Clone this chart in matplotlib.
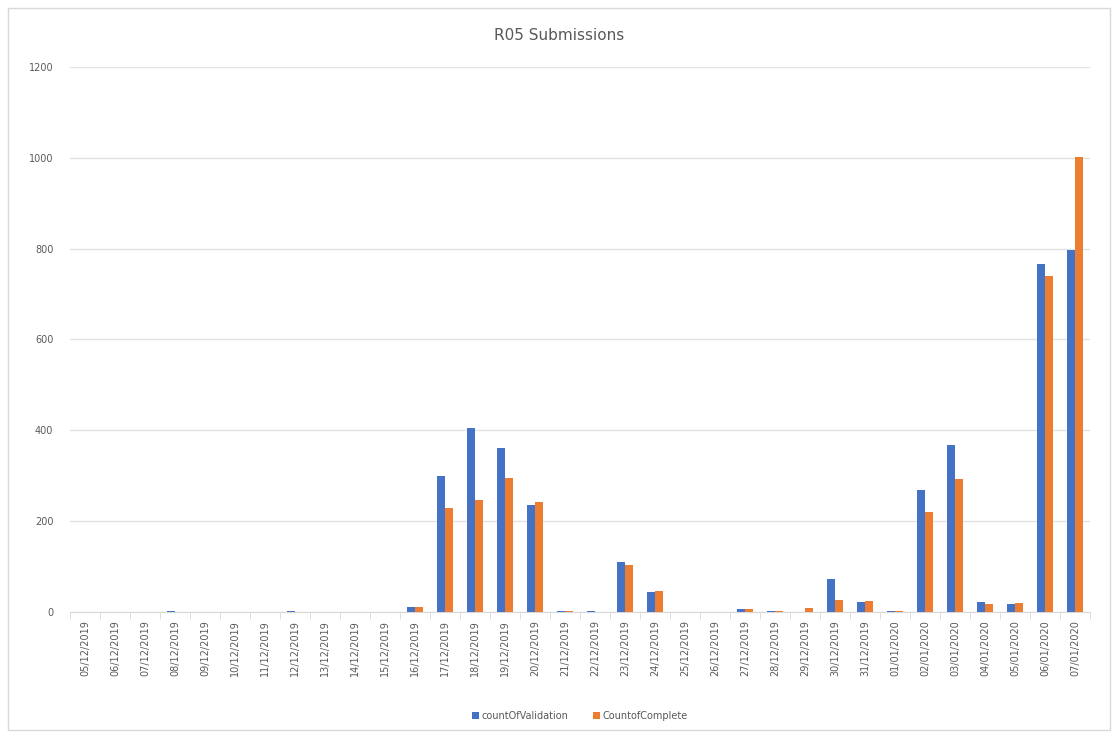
import matplotlib
matplotlib.use("Agg")
import matplotlib.pyplot as plt
import numpy as np
from matplotlib.patches import Rectangle

dates = ["05/12/2019", "06/12/2019", "07/12/2019", "08/12/2019", "09/12/2019", "10/12/2019",
         "11/12/2019", "12/12/2019", "13/12/2019", "14/12/2019", "15/12/2019", "16/12/2019",
         "17/12/2019", "18/12/2019", "19/12/2019", "20/12/2019", "21/12/2019", "22/12/2019",
         "23/12/2019", "24/12/2019", "25/12/2019", "26/12/2019", "27/12/2019", "28/12/2019",
         "29/12/2019", "30/12/2019", "31/12/2019", "01/01/2020", "02/01/2020", "03/01/2020",
         "04/01/2020", "05/01/2020", "06/01/2020", "07/01/2020"]
validation = [0, 0, 0, 3, 0, 0, 0, 3, 0, 0, 0, 12, 300, 405, 361, 236, 3, 3, 110, 45,
              0, 0, 6, 3, 0, 72, 23, 3, 269, 368, 21, 17, 766, 797]
complete = [0, 0, 0, 0, 0, 0, 0, 0, 0, 0, 0, 12, 229, 246, 295, 242, 3, 0, 103, 47,
            0, 0, 6, 3, 9, 27, 25, 3, 220, 293, 18, 20, 740, 1002]

W, H = 1119, 738
fig = plt.figure(figsize=(W / 100, H / 100), dpi=100)
fig.patches.append(Rectangle((8 / W, 8 / H), 1102 / W, 722 / H, transform=fig.transFigure,
                             fill=False, edgecolor="#D9D9D9", linewidth=1))
ax = fig.add_axes([70 / W, 1 - 612 / H, 1020 / W, 545 / H])

x = np.arange(len(dates))
bw = 0.26
ax.bar(x - bw / 2, validation, bw, color="#4472C4", label="countOfValidation", zorder=3)
ax.bar(x + bw / 2, complete, bw, color="#ED7D31", label="CountofComplete", zorder=3)

ax.set_xlim(-0.5, len(dates) - 0.5)
ax.set_ylim(0, 1200)
ax.set_yticks(np.arange(0, 1201, 200))
ax.yaxis.grid(True, color="#E3E3E3", linewidth=1, zorder=0)
for s in ["top", "right", "left"]:
    ax.spines[s].set_visible(False)
ax.spines["bottom"].set_color("#D9D9D9")
ax.tick_params(axis="y", length=0, labelsize=7, labelcolor="#595959", pad=12)
ax.set_xticks(x)
ax.set_xticklabels(dates, rotation=90, fontsize=7, color="#595959")
ax.tick_params(axis="x", length=0, pad=6)
ax.set_xticks(np.arange(-0.5, len(dates), 1), minor=True)
ax.tick_params(axis="x", which="minor", length=5, color="#D9D9D9")

fig.text(0.5, 1 - 35 / H, "R05 Submissions", ha="center", va="center", fontsize=11, color="#595959")
fig.legend(loc="center", bbox_to_anchor=(580 / W, 1 - 716 / H), ncol=2, frameon=False,
           fontsize=7, labelcolor="#595959", handlelength=0.7, handleheight=0.7,
           columnspacing=2.5, handletextpad=0.3)

fig.savefig("out.png", dpi=100)
